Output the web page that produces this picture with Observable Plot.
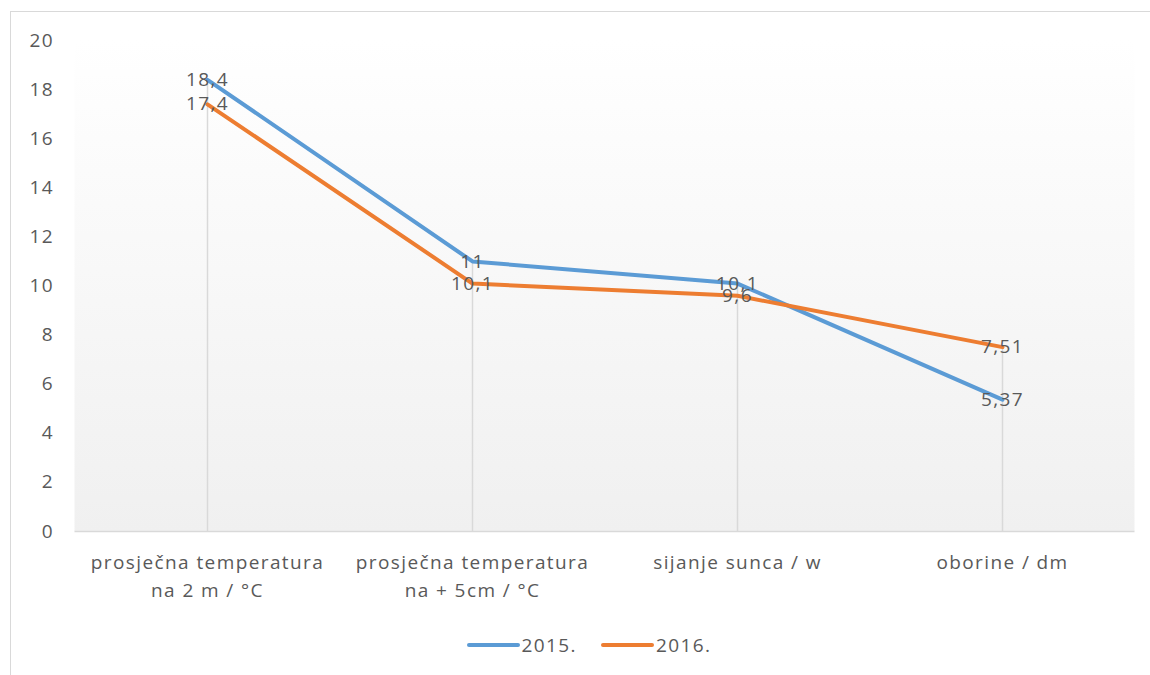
<!DOCTYPE html>
<html>
<head>
<meta charset="utf-8">
<script src="https://cdn.jsdelivr.net/npm/d3@7"></script>
<script src="https://cdn.jsdelivr.net/npm/@observablehq/plot@0.6"></script>
<style>
  html, body { margin: 0; padding: 0; background: #fff; }
  #wrap { position: relative; width: 1150px; height: 675px; overflow: hidden; font-family: "Open Sans", Lato, sans-serif; }
  #border { position: absolute; left: 10px; top: 11px; width: 1300px; height: 800px; border: 1.5px solid #d9d9d9; box-sizing: border-box; }
  #chart { position: absolute; left: 0; top: 0; }
  #legend { position: absolute; left: 14px; top: 632px; width: 1150px; display: flex; justify-content: center; gap: 24px; font-size: 19px; letter-spacing: 1.4px; color: #595959; }
  .item { display: flex; align-items: center; }
  .sw { width: 53px; height: 4px; border-radius: 2px; margin-right: 2px; }
</style>
</head>
<body>
<div id="wrap">
  <div id="border"></div>
  <div id="chart"></div>
  <div id="legend"></div>
</div>
<script>
const categories = ["prosječna temperatura na 2 m / °C", "prosječna temperatura na + 5cm / °C", "sijanje sunca / w", "oborine / dm"];
const tickLabels = ["prosječna temperatura\nna 2 m / °C", "prosječna temperatura\nna + 5cm / °C", "sijanje sunca / w", "oborine / dm"];
const seriesNames = ["2015.", "2016."];
const values2015 = [18.4, 11, 10.1, 5.37];
const values2016 = [17.4, 10.1, 9.6, 7.51];
const labels2015 = ["18,4", "11", "10,1", "5,37"];
const labels2016 = ["17,4", "10,1", "9,6", "7,51"];
const yTicks = [0, 2, 4, 6, 8, 10, 12, 14, 16, 18, 20];
const colors = ["#5b9bd5", "#ed7d31"];

const data = [];
categories.forEach((c, i) => {
  data.push({cat: c, series: seriesNames[0], value: values2015[i], label: labels2015[i]});
  data.push({cat: c, series: seriesNames[1], value: values2016[i], label: labels2016[i]});
});
const drops = categories.map((c, i) => ({cat: c, top: Math.max(values2015[i], values2016[i])}));

const gradientMark = (index, scales, values, dims) => {
  const g = d3.create("svg:g");
  const grad = g.append("defs").append("linearGradient")
    .attr("id", "bgGrad").attr("x1", 0).attr("y1", 0).attr("x2", 0).attr("y2", 1);
  grad.append("stop").attr("offset", "0%").attr("stop-color", "#ffffff");
  grad.append("stop").attr("offset", "100%").attr("stop-color", "#f0f0f0");
  g.append("rect")
    .attr("x", dims.marginLeft).attr("y", dims.marginTop)
    .attr("width", dims.width - dims.marginLeft - dims.marginRight)
    .attr("height", dims.height - dims.marginTop - dims.marginBottom)
    .attr("fill", "url(#bgGrad)");
  return g.node();
};

const chart = Plot.plot({
  width: 1150,
  height: 625,
  marginLeft: 74.5,
  marginRight: 15.5,
  marginTop: 40,
  marginBottom: 94,
  style: {fontFamily: "'Open Sans', Lato, sans-serif", fontSize: "19px", letterSpacing: "1.4px", color: "#595959", background: "transparent"},
  x: {type: "point", domain: categories, padding: 0.5},
  y: {domain: [0, 20]},
  color: {domain: seriesNames, range: colors},
  marks: [
    gradientMark,
    Plot.ruleX(drops, {x: "cat", y1: 0, y2: "top", stroke: "#d9d9d9", strokeWidth: 1.5}),
    Plot.ruleY([0], {stroke: "#d9d9d9", strokeWidth: 1.5}),
    Plot.axisY({ticks: yTicks, tickSize: 0, tickPadding: 21, fontSize: 19, fill: "#595959", label: null}),
    Plot.axisX({tickSize: 0, tickPadding: 18, fontSize: 19, fill: "#595959", lineHeight: 1.45, label: null,
      tickFormat: d => tickLabels[categories.indexOf(d)]}),
    Plot.line(data, {x: "cat", y: "value", z: "series", stroke: "series", strokeWidth: 4}),
    Plot.text(data, {x: "cat", y: "value", text: "label", fill: "#595959", fontSize: 19})
  ]
});
document.getElementById("chart").appendChild(chart);

const legend = document.getElementById("legend");
seriesNames.forEach((s, i) => {
  const it = document.createElement("div");
  it.className = "item";
  const sw = document.createElement("div");
  sw.className = "sw";
  sw.style.background = colors[i];
  const t = document.createElement("span");
  t.textContent = s;
  it.appendChild(sw); it.appendChild(t);
  legend.appendChild(it);
});
</script>
</body>
</html>
